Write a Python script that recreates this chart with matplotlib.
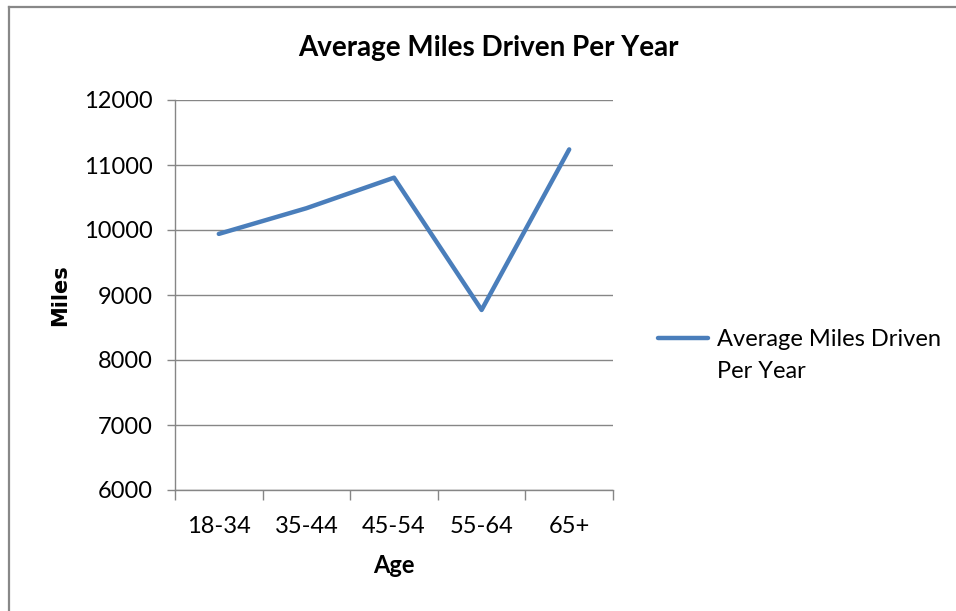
import matplotlib.pyplot as plt
from matplotlib.lines import Line2D

ages = ['18-34', '35-44', '45-54', '55-64', '65+']
miles = [9940, 10335, 10805, 8770, 11240]
yticks = [6000, 7000, 8000, 9000, 10000, 11000, 12000]
series_name = 'Average Miles Driven Per Year'

font = 'Lato'
blue = '#4A7EBB'
grey = '#868686'

fig = plt.figure(figsize=(9.56, 6.11), dpi=100)

# outer chart frame
fig.add_artist(Line2D([9 / 956, 9 / 956], [0, 1 - 7 / 611],
                      transform=fig.transFigure, color='#888888', lw=1.6))
fig.add_artist(Line2D([9 / 956, 1], [1 - 7 / 611, 1 - 7 / 611],
                      transform=fig.transFigure, color='#888888', lw=1.6))

ax = fig.add_axes([175 / 956, 1 - 490 / 611, (613 - 175) / 956, 390 / 611])
x = list(range(len(ages)))
ax.plot(x, miles, color=blue, lw=3.2, solid_capstyle='round',
        label='Average Miles Driven', zorder=3)

ax.set_xlim(-0.5, len(ages) - 0.5)
ax.set_ylim(6000, 12000)
ax.set_yticks(yticks)
ax.set_yticklabels([str(v) for v in yticks], fontfamily=font, fontsize=17)
ax.grid(axis='y', color=grey, lw=1.0)

ax.set_xticks([i - 0.5 for i in range(len(ages) + 1)])
ax.set_xticklabels([])
ax.set_xticks(x, minor=True)
ax.set_xticklabels(ages, minor=True, fontfamily=font, fontsize=17)
ax.tick_params(axis='x', which='major', length=7, color=grey, width=1)
ax.tick_params(axis='x', which='minor', length=0, pad=19)
ax.tick_params(axis='y', length=6, color=grey, width=1, pad=10)

for side in ['top', 'right']:
    ax.spines[side].set_visible(False)
for side in ['left', 'bottom']:
    ax.spines[side].set_color(grey)
    ax.spines[side].set_linewidth(1.0)

ax.set_xlabel('Age', fontfamily=font, fontsize=17, fontweight='bold', labelpad=12)
ax.set_ylabel('Miles', fontfamily='DejaVu Sans', fontsize=15, fontweight='bold', labelpad=10)
fig.suptitle(series_name, fontfamily=font, fontsize=20,
             fontweight='bold', x=488 / 956, y=1 - 48 / 611, va='center')

leg = fig.legend(loc='center left', bbox_to_anchor=(658 / 956, 1 - 340 / 611),
                 frameon=False, handlelength=2.1, handletextpad=0.38,
                 borderpad=0, borderaxespad=0,
                 prop={'family': font, 'size': 17})

# second line of the wrapped legend label, under the first
fig.canvas.draw()
tb = leg.get_texts()[0].get_window_extent().transformed(fig.transFigure.inverted())
fig.text(tb.x0, tb.y1 - 31 / 611, 'Per Year',
         fontfamily=font, fontsize=17, va='top', ha='left')

fig.savefig('out.png', dpi=100)
